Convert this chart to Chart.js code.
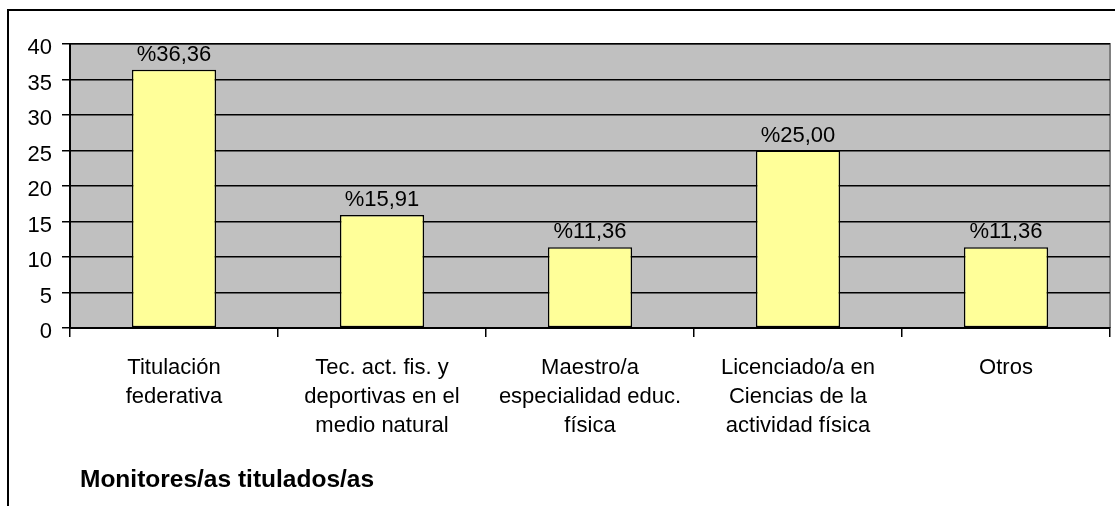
<!DOCTYPE html>
<html>
<head>
<meta charset="utf-8">
<script src="https://cdn.jsdelivr.net/npm/chart.js@4/dist/chart.umd.min.js"></script>
<style>
html,body{margin:0;padding:0;background:#fff;}
#wrap{width:1115px;height:506px;position:relative;}
</style>
</head>
<body>
<div id="wrap"><canvas id="c" width="1115" height="506"></canvas></div>
<script>
const categories = [
  ["Titulación", "federativa"],
  ["Tec. act. fis. y", "deportivas en el", "medio natural"],
  ["Maestro/a", "especialidad educ.", "física"],
  ["Licenciado/a en", "Ciencias de la", "actividad física"],
  ["Otros"]
];
const values = [36.36, 15.91, 11.36, 25.00, 11.36];
const valueLabels = ["%36,36", "%15,91", "%11,36", "%25,00", "%11,36"];
const yTicks = [0, 5, 10, 15, 20, 25, 30, 35, 40];
const chartTitle = "Monitores/as titulados/as";

const FONT = "Arial, 'Liberation Sans', sans-serif";

const decor = {
  id: 'decor',
  beforeDraw(chart) {
    const {ctx, chartArea: a} = chart;
    ctx.save();
    ctx.fillStyle = '#C0C0C0';
    ctx.fillRect(a.left, a.top, a.right - a.left, a.bottom - a.top);
    ctx.strokeStyle = '#808080';
    ctx.lineWidth = 2;
    ctx.beginPath();
    ctx.moveTo(a.left, a.top);
    ctx.lineTo(a.right, a.top);
    ctx.lineTo(a.right, a.bottom);
    ctx.stroke();
    ctx.strokeStyle = '#000';
    ctx.lineWidth = 2;
    ctx.beginPath();
    ctx.moveTo(8, 506);
    ctx.lineTo(8, 10);
    ctx.lineTo(1115, 10);
    ctx.stroke();
    ctx.restore();
  },
  afterDatasetsDraw(chart) {
    const {ctx} = chart;
    const meta = chart.getDatasetMeta(0);
    ctx.save();
    ctx.fillStyle = '#000';
    ctx.font = '22px ' + FONT;
    ctx.textAlign = 'center';
    ctx.textBaseline = 'alphabetic';
    meta.data.forEach((bar, i) => {
      ctx.fillText(valueLabels[i], bar.x, bar.y - 9);
    });
    ctx.font = 'bold 24.5px ' + FONT;
    ctx.textAlign = 'left';
    ctx.textBaseline = 'middle';
    ctx.fillText(chartTitle, 80, 480);
    ctx.restore();
  }
};

new Chart(document.getElementById('c'), {
  type: 'bar',
  data: {
    labels: categories,
    datasets: [{
      data: values,
      backgroundColor: '#FFFF99',
      borderColor: '#000000',
      borderWidth: 1.5,
      borderSkipped: false,
      barPercentage: 0.405,
      categoryPercentage: 1.0
    }]
  },
  options: {
    responsive: false,
    animation: false,
    devicePixelRatio: 1,
    layout: { padding: { top: 44, right: 5, left: 0, bottom: 0 } },
    plugins: { legend: { display: false }, tooltip: { enabled: false }, title: { display: false } },
    scales: {
      x: {
        offset: true,
        afterFit(s) { s.height = 178; },
        grid: { drawOnChartArea: false, drawTicks: true, tickLength: 9, color: '#000', lineWidth: 1.5, offset: true },
        border: { display: true, color: '#000', width: 2 },
        ticks: { color: '#000', font: { family: FONT, size: 22, lineHeight: 1.33 }, padding: 16, maxRotation: 0, autoSkip: false }
      },
      y: {
        min: 0, max: 40,
        afterFit(s) { s.width = 70; },
        afterBuildTicks(s) { s.ticks = yTicks.map(v => ({ value: v })); },
        grid: { color: '#000', lineWidth: 1.5, tickLength: 8, drawTicks: true },
        border: { display: true, color: '#000', width: 2 },
        ticks: { color: '#000', font: { family: FONT, size: 22 }, padding: 10, labelOffset: 4 }
      }
    }
  },
  plugins: [decor]
});
</script>
</body>
</html>
